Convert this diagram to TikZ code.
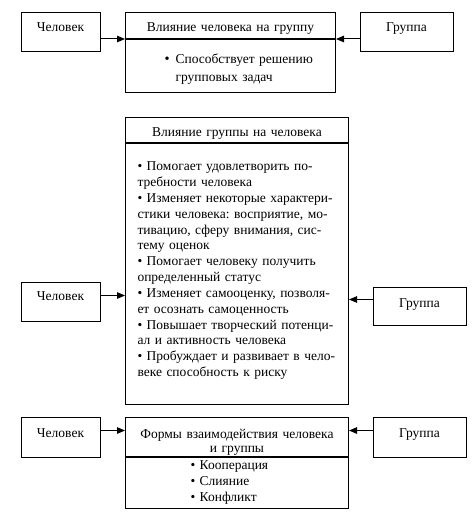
\documentclass[tikz,border=0pt]{standalone}
\usepackage{fontspec}
\setmainfont{Liberation Serif}
\usetikzlibrary{positioning,arrows.meta}
\frenchspacing

\begin{document}
\begin{tikzpicture}[x=1pt,y=-1pt,font=\fontsize{13.5pt}{15.8pt}\selectfont]
    \tikzstyle{side}=[rectangle,draw=black,line width=1pt,minimum width=79pt,inner sep=0pt,text height=19.5pt,anchor=north]
    \tikzstyle{head}=[rectangle,draw=black,line width=1pt,inner xsep=3pt,inner ysep=0pt,align=center]
    \tikzstyle{body}=[rectangle,draw=black,line width=1pt,inner xsep=3pt,inner ysep=0pt,align=left]
    \tikzstyle{arr}=[line width=1pt,-{Triangle[length=8pt,width=6.5pt]}]

    \useasboundingbox (0,0) rectangle (474,521);

    % influence of the person on the group
    \node[side,text depth=19.5pt](chel1) at (60.5,12){Человек};
    \node[side,text depth=19.5pt,minimum width=93pt](gr1) at (406.5,12){Группа};
    \node[head,text width=204pt,text height=19.5pt,text depth=6.5pt,anchor=north west](infl1) at (125,12){Влияние человека на группу};
    \node[body,text width=204pt,text height=24.5pt,text depth=28.5pt,below=0pt of infl1,
          font=\fontsize{13.5pt}{17.5pt}\selectfont](task1){%
      \hspace*{36pt}{\Large\textbullet}\hspace{6pt}\parbox[t]{150pt}{Способствует решению\\групповых задач}};

    \draw[arr] (chel1.east |- infl1.south) -- (infl1.south west);
    \draw[arr] (gr1.west |- infl1.south) -- (infl1.south east);

    % influence of the group on the person
    \node[side,text height=17.5pt,text depth=21.5pt](chel2) at (60.5,282){Человек};
    \node[side,text depth=18.5pt,minimum width=93pt](gr2) at (419.5,287){Группа};
    \node[head,text width=217pt,text height=19.5pt,text depth=5.5pt,anchor=north west](infl2) at (125,117){Влияние группы на человека};
    \node[body,text width=217pt,text height=27.5pt,text depth=233.5pt,below=0pt of infl2](list2){%
      \hspace*{9pt}\parbox[t]{205pt}{\raggedright
      \textbullet\ Помогает удовлетворить по-\\
      требности человека\\
      \textbullet\ Изменяет некоторые характери-\\
      стики человека: восприятие, мо-\\
      тивацию, сферу внимания, сис-\\
      тему оценок\\
      \textbullet\ Помогает человеку получить\\
      определенный статус\\
      \textbullet\ Изменяет самооценку, позволя-\\
      ет осознать самоценность\\
      \textbullet\ Повышает творческий потенци-\\
      ал и активность человека\\
      \textbullet\ Пробуждает и развивает в чело-\\
      веке способность к риску}};

    \draw[arr] ([yshift=6.5pt]chel2.east) -- ([yshift=6.5pt]chel2.east -| list2.west);
    \draw[arr] ([yshift=7pt]gr2.west) -- ([yshift=7pt]gr2.west -| list2.east);

    % forms of interaction
    \node[side,text depth=20.5pt](chel3) at (60.5,417){Человек};
    \node[side,text depth=20.5pt,minimum width=93pt](gr3) at (419.5,417){Группа};
    \node[head,text width=217pt,text height=20.5pt,text depth=18.5pt,anchor=north west,
          font=\fontsize{13.5pt}{14.5pt}\selectfont](infl3) at (125,417){Формы взаимодействия человека\\и группы};
    \node[body,text width=217pt,text height=11.5pt,text depth=39.5pt,below=0pt of infl3,
          font=\fontsize{13.5pt}{16pt}\selectfont](forms3){%
      \hspace*{62pt}\textbullet\ Кооперация\\
      \hspace*{62pt}\textbullet\ Слияние\\
      \hspace*{62pt}\textbullet\ Конфликт};

    \draw[arr] ([yshift=7pt]chel3.east) -- ([yshift=7pt]chel3.east -| forms3.west);
    \draw[arr] ([yshift=7pt]gr3.west) -- ([yshift=7pt]gr3.west -| forms3.east);
\end{tikzpicture}
\end{document}
